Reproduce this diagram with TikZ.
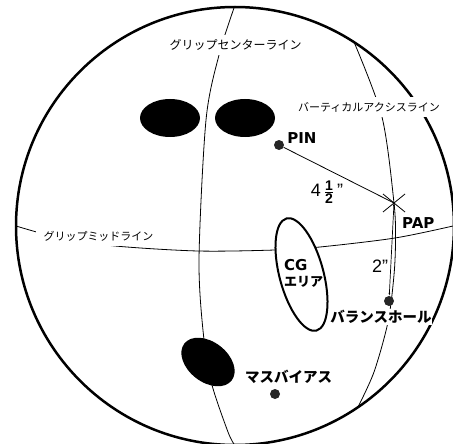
\documentclass[tikz,border=0pt]{standalone}
\usepackage{amsmath}
\usepackage{fontspec}
\setmainfont{Liberation Sans}
\newfontfamily\jpfont{Noto Sans CJK JP}
\newfontfamily\capsfont{DejaVu Sans}
\usetikzlibrary{arrows.meta,positioning,shapes.geometric}

\begin{document}
\begin{tikzpicture}[
  x=1pt, y=-1pt,
  node distance=3pt and 3pt,
  ball/.style={draw, line width=2.5pt},
  guide/.style={line width=0.8pt},
  hole/.style={ellipse, fill=black, inner sep=0pt},
  dotmark/.style={circle, fill=black!85, inner sep=0pt, minimum size=10pt},
  linelabel/.style={fill=white, inner xsep=1pt, inner ysep=0pt, minimum height=20pt,
                    font=\jpfont\fontsize{11}{11}\selectfont},
  jplabel/.style={inner sep=0pt, font=\jpfont\bfseries\fontsize{14.5}{14.5}\selectfont},
  caplabel/.style={inner sep=0pt, font=\capsfont\bfseries\fontsize{15}{15}\selectfont},
  dim/.style={inner sep=0pt},
  arr/.style={{Latex[length=3pt,width=2pt]}-{Latex[length=3pt,width=2pt]}, line width=0.7pt},
]
  \useasboundingbox (0,0) rectangle (453,444);
  \coordinate (c) at (235,226);
  \coordinate (pap) at (394,203);
  % ball and reference lines
  \draw[ball] (c) circle (219);
  \draw[guide] plot[smooth] coordinates {(234,8) (219,55) (206,120) (199,260) (204,340) (212,385) (228,432) (234,444)};
  \draw[guide] plot[smooth] coordinates {(354,42) (382,117) (394,203) (395.5,240) (394,275) (388,322) (374,372) (358,407)};
  \draw[guide] plot[smooth] coordinates {(16,226) (60,238) (115,246) (198,251) (275,250) (320,247) (395,238) (453,226)};
  % holes
  \node[hole, minimum width=60pt, minimum height=38pt] (thumb) at (170,118) {};
  \node[hole, minimum width=60pt, minimum height=38pt] (finger) at (245,118) {};
  \node[hole, minimum width=60pt, minimum height=40pt, rotate=-38] (third) at (208,362) {};
  \node[ellipse, draw, fill=white, line width=2pt, inner sep=0pt, minimum width=116pt,
        minimum height=44pt, rotate=-75] (cg) at (301.5,274.5) {};
  % marks
  \node[dotmark] (pin) at (279,145) {};
  \node[dotmark] (hole) at (389,301) {};
  \node[dotmark] (mass) at (275,394) {};
  \draw[guide] ([shift={(-11,-9)}]pap) -- ([shift={(11,9)}]pap);
  \draw[guide] ([shift={(-11,9)}]pap) -- ([shift={(11,-9)}]pap);
  \draw[guide] (pin) -- (pap);
  \draw[arr] (pap) -- (hole);
  % labels
  \node[linelabel, font=\jpfont\fontsize{12}{12}\selectfont] (gcl) at (235.5,45) {グリップセンターライン};
  \node[linelabel] (val) at (369,107) {バーティカルアクシスライン};
  \node[linelabel, inner xsep=8pt] (gml) at (98.5,236) {グリップミッドライン};
  \node[caplabel, right=3pt of pin, yshift=7pt] (pinlab) {PIN};
  \node[caplabel, below right=14pt and 8pt of pap] (paplab) {PAP};
  \node[jplabel, fill=white, inner ysep=1pt, below=3pt of hole, xshift=-8pt] (holelab) {バランスホール};
  \node[jplabel, above=5pt of mass, xshift=13.5pt] (masslab) {マスバイアス};
  \node[caplabel, align=left, font=\jpfont\bfseries\fontsize{13}{16}\selectfont] (cglab) at (303.5,273)
    {{\capsfont\bfseries\fontsize{15}{15}\selectfont CG}\\エリア};
  \node[dim] (len) at (327,192) {\fontsize{18}{18}\selectfont 4\,$\frac{\textbf{\fontsize{14}{14}\selectfont 1}}{\textbf{\fontsize{14}{14}\selectfont 2}}$\,\fontsize{18}{18}\selectfont"};
  \node[dim, font=\fontsize{18}{18}\selectfont] (off) at (380,266) {2"};
\end{tikzpicture}
\end{document}
